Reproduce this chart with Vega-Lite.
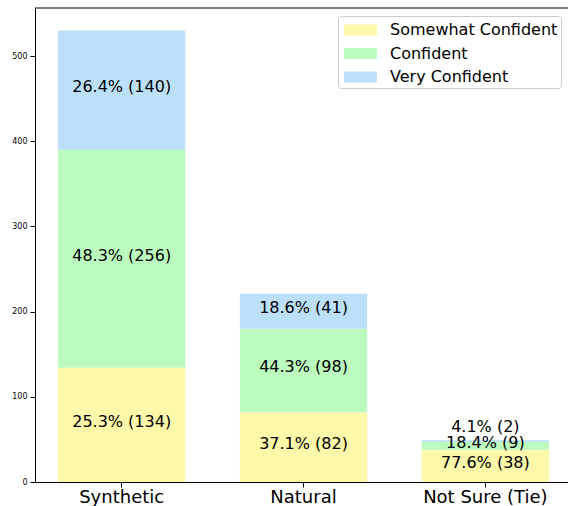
{
  "$schema": "https://vega.github.io/schema/vega-lite/v6.json",
  "autosize": "none",
  "width": 533,
  "height": 474,
  "padding": {"left": 35, "top": 8, "right": 0, "bottom": 24},
  "config": {
    "view": {"stroke": null},
    "font": "DejaVu Sans",
    "axis": {"domainColor": "black", "tickColor": "black", "labelColor": "black", "grid": false, "title": null, "domainWidth": 1, "tickWidth": 1}
  },
  "data": {
    "values": [
      {"cat": "Synthetic", "conf": "Somewhat Confident", "k": 1, "n": 134, "label": "25.3% (134)"},
      {"cat": "Synthetic", "conf": "Confident", "k": 2, "n": 256, "label": "48.3% (256)"},
      {"cat": "Synthetic", "conf": "Very Confident", "k": 3, "n": 140, "label": "26.4% (140)"},
      {"cat": "Natural", "conf": "Somewhat Confident", "k": 1, "n": 82, "label": "37.1% (82)"},
      {"cat": "Natural", "conf": "Confident", "k": 2, "n": 98, "label": "44.3% (98)"},
      {"cat": "Natural", "conf": "Very Confident", "k": 3, "n": 41, "label": "18.6% (41)"},
      {"cat": "Not Sure (Tie)", "conf": "Somewhat Confident", "k": 1, "n": 38, "label": "77.6% (38)"},
      {"cat": "Not Sure (Tie)", "conf": "Confident", "k": 2, "n": 9, "label": "18.4% (9)"},
      {"cat": "Not Sure (Tie)", "conf": "Very Confident", "k": 3, "n": 2, "label": "4.1% (2)"}
    ]
  },
  "transform": [
    {"stack": "n", "groupby": ["cat"], "sort": [{"field": "k", "order": "ascending"}], "as": ["y0", "y1"]}
  ],
  "layer": [
    {
      "mark": {"type": "bar"},
      "encoding": {
        "x": {"field": "cat", "type": "nominal", "sort": ["Synthetic", "Natural", "Not Sure (Tie)"],
              "scale": {"paddingInner": 0.3, "paddingOuter": 0.1155, "align": 0.548},
              "axis": {"labelFontSize": 18, "labelAngle": 0, "tickSize": 5, "labelPadding": 1}},
        "y": {"field": "y0", "type": "quantitative", "scale": {"domain": [0, 556.5], "nice": false, "zero": true},
              "axis": {"values": [0, 100, 200, 300, 400, 500], "labelFontSize": 8, "tickSize": 5, "labelPadding": 3}},
        "y2": {"field": "y1"},
        "color": {"field": "conf", "type": "nominal",
                  "scale": {"domain": ["Somewhat Confident", "Confident", "Very Confident"], "range": ["#fdf8aa", "#bcfbbe", "#bde0fa"]},
                  "legend": {"orient": "none", "legendX": 303, "legendY": 8, "title": null, "labelFontSize": 16, "labelLimit": 400,
                             "symbolType": "M-1.5,-0.5H1.5V0.5H-1.5Z", "symbolSize": 484, "symbolStrokeWidth": 0, "symbolOpacity": 1,
                             "symbolOffset": 8.5, "labelOffset": 18.5,
                             "fillColor": "white", "strokeColor": "#cccccc", "cornerRadius": 3, "padding": 3, "rowPadding": 4.5, "labelColor": "black"}}
      }
    },
    {
      "transform": [
        {"filter": "datum.n >= 5"},
        {"fold": ["y0", "y1"], "as": ["edge", "v"]},
        {"aggregate": [{"op": "mean", "field": "v", "as": "mid"}], "groupby": ["cat", "k", "n", "label"]}
      ],
      "mark": {"type": "text", "fontSize": 16, "dy": -3, "color": "black", "baseline": "middle"},
      "encoding": {
        "x": {"field": "cat", "type": "nominal", "sort": ["Synthetic", "Natural", "Not Sure (Tie)"]},
        "y": {"field": "mid", "type": "quantitative"},
        "text": {"field": "label"}
      }
    },
    {
      "transform": [
        {"filter": "datum.n < 5"},
        {"fold": ["y0", "y1"], "as": ["edge", "v"]},
        {"aggregate": [{"op": "mean", "field": "v", "as": "mid"}], "groupby": ["cat", "k", "n", "label"]}
      ],
      "mark": {"type": "text", "fontSize": 16, "dy": -14, "color": "black", "baseline": "middle"},
      "encoding": {
        "x": {"field": "cat", "type": "nominal", "sort": ["Synthetic", "Natural", "Not Sure (Tie)"]},
        "y": {"field": "mid", "type": "quantitative"},
        "text": {"field": "label"}
      }
    },
    {
      "data": {"values": [{}]},
      "mark": {"type": "rule", "color": "black", "strokeWidth": 1},
      "encoding": {"y": {"datum": 556.5}}
    }
  ]
}
